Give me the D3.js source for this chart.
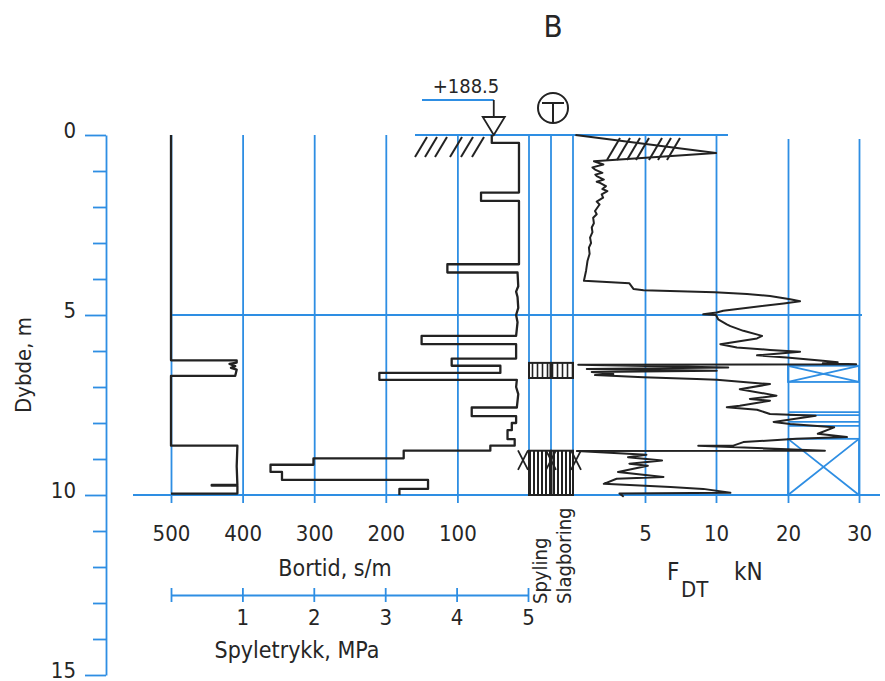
<!DOCTYPE html>
<html><head><meta charset="utf-8">
<script src="https://cdn.jsdelivr.net/npm/d3@7"></script>
<style>
body{margin:0;background:#fff}
text{font-family:"DejaVu Sans Condensed","DejaVu Sans",sans-serif;fill:#262626}
</style></head>
<body><svg id="c" width="885" height="681"></svg>
<script>
// ---------- data ----------
const title = "B";
const elevation = "+188.5";
const depthTicks = d3.range(0, 16);
const depthLabels = [0, 5, 10, 15];
const bortidTicks = [500, 400, 300, 200, 100];
const spyleTicks = [0, 1, 2, 3, 4, 5];
const fdtTicks = [5, 10, 20, 30];
// Bortid, s/m  : [depth m, value]
const bortid = [[0,52],[0.22,52],[0.22,14],[1.6,14],[1.6,67],[1.83,67],[1.83,14],[3.59,14],[3.59,114],[3.82,114],[3.82,16],
 [4.2,15],[4.35,18],[4.5,16],[4.8,15],[5.0,18],[5.2,16],[5.58,18],[5.58,150],[5.81,150],[5.81,18],[6.21,18],[6.21,108],[6.41,108],[6.41,40],
 [6.61,40],[6.61,209],[6.80,209],[6.80,17],[7.0,18],[7.2,15],[7.57,17],[7.57,80],[7.81,80],[7.81,18],[8.0,18],[8.0,24],[8.2,24],[8.2,30],
 [8.45,30],[8.45,20],[8.63,20],[8.63,54],[8.77,54],[8.77,175],[8.98,175],[8.98,301],[9.16,301],[9.16,361],[9.36,361],[9.36,345],
 [9.58,345],[9.58,141],[9.83,141],[9.83,181],[9.96,181],[10,181]];
// Spyletrykk, MPa : [depth m, value]
const spyletrykk = [[0,0],[6.26,0],[6.26,0.92],[6.32,0.92],[6.36,0.82],[6.42,0.9],[6.47,0.84],[6.52,0.92],[6.69,0.9],[6.69,0],
 [8.63,0],[8.63,0.93],[9.2,0.92],[9.72,0.93],[9.72,0.57],[9.74,0.57],[9.74,0.93],[9.96,0.93],[9.96,0]];
// F_DT, kN : [depth m, value]
const fdt = [[0,0.1],[0.5,10],[0.73,1.4],[0.82,2.07],[0.9,1.3],[0.96,1.48],[1.05,2.0],[1.1,1.5],[1.14,1.6],[1.24,2.1],[1.3,1.6],[1.33,1.83],[1.42,2.25],
 [1.5,2.0],[1.56,2.35],[1.65,1.95],[1.74,2.05],[1.85,1.6],[1.93,1.8],[2.11,1.48],[2.2,1.6],[2.3,1.35],[2.45,1.4],[2.57,1.25],[2.7,1.3],[2.85,1.13],[3.0,1.2],[3.13,1.05],[3.3,1.1],[3.5,0.95],[3.77,0.85],
 [4.05,0.7],[4.12,3.9],[4.28,4.2],[4.31,4.9],[4.37,9.9],[4.42,14.3],[4.47,17.5],[4.56,20.3],[4.62,21.7],[4.68,19.4],[4.79,14.7],
 [4.88,11.0],[4.93,10.1],[4.98,9.1],[5.0,10.0],[5.12,10.3],[5.26,11.5],[5.31,12.0],[5.44,13.8],[5.58,16.4],[5.65,15.7],[5.81,10.6],
 [5.9,12.9],[5.97,17.5],[6.02,21.7],[6.12,15.7],[6.18,19.8],[6.27,24.9],[6.31,27.0],[6.34,24.9],[6.37,29.6],[6.38,0.3],[6.46,11.7],
 [6.5,0.9],[6.55,10.1],[6.58,1.25],[6.64,2.77],[6.67,1.48],[6.73,4.88],[6.78,8.64],[6.8,10.1],[6.92,17.5],[7.06,13.3],[7.24,18.4],
 [7.33,14.7],[7.38,17.5],[7.52,13.3],[7.56,11.5],[7.63,15.7],[7.75,17.5],[7.8,23.9],[7.97,18.0],[8.03,20.3],[8.12,26.5],[8.3,24.2],
 [8.39,28.3],[8.44,21.2],[8.53,13.8],[8.63,12.4],[8.63,8.75],[8.77,25.2],[8.78,0.2],[8.88,5.1],[8.95,3.8],[9.04,6.2],[9.13,3.9],
 [9.19,5.2],[9.36,3.1],[9.5,6.3],[9.55,3.0],[9.69,2.1],[9.78,6.8],[9.83,9.1],[9.94,12.0],[9.96,3.2],[10.05,3.5]];
// Spyling / Slagboring zones [from, to] m
const spylingZones = [[6.33,6.75],[8.77,10]];
const slagboringZones = [[6.33,6.75],[8.77,10]];
// crossed boxes (20-30 kN column) and band lines, depth m
const crossBoxes = [[6.41,6.86],[8.44,10]];
const bandLines = [7.7,7.78,7.97,8.08];
const xMarkDepth = [8.76, 9.3];

// ---------- drawing ----------
const BLUE = "#2e8ee3", INK = "#222";
const svg = d3.select("#c");
const y = d3.scaleLinear().domain([0,15]).range([135,675]);
const xB = d3.scaleLinear().domain([0,500]).range([529,171]);
const xS = d3.scaleLinear().domain([0,5]).range([171,528]);
const xF = d3.scaleLinear().domain([0,5,10,20,30]).range([574,645,716,788,859]);
const colL = xB(0), colR = xF(0) - 1, colM = (colL + colR) / 2;
const gridBottom = 503;
const FONT = '"DejaVu Sans Condensed","DejaVu Sans",sans-serif';

const defs = svg.append("defs");
function stripes(id, step, w){
  const p = defs.append("pattern").attr("id", id).attr("patternUnits","userSpaceOnUse")
    .attr("width", step).attr("height", 10);
  p.append("rect").attr("width", step).attr("height", 10).attr("fill", "#fff");
  p.append("line").attr("x1", step/2).attr("x2", step/2).attr("y1", 0).attr("y2", 10)
    .attr("stroke", INK).attr("stroke-width", w);
}
stripes("stA", 5, 1.6);
stripes("stB", 4, 2);

// --- blue grid ---
const grid = svg.append("g").attr("stroke", BLUE).attr("stroke-width", 1.8).attr("fill","none");

const axB = svg.append("g").attr("transform", `translate(0,${gridBottom})`)
  .call(d3.axisBottom(xB).tickValues(bortidTicks).tickSize(-(gridBottom - y(0))).tickFormat(d => d));
const axF = svg.append("g").attr("transform", `translate(0,${gridBottom})`)
  .call(d3.axisBottom(xF).tickValues(fdtTicks).tickSize(-(gridBottom - y(0))).tickFormat(d => d));
[axB, axF].forEach(a => {
  a.select(".domain").remove();
  a.selectAll("line").attr("stroke", BLUE).attr("stroke-width", 1.8);
  a.selectAll("text").attr("y", 38).attr("dy", 0).attr("font-size", 22)
    .attr("font-family", FONT).attr("fill", INK);
});
axF.selectAll(".tick").filter(d => d >= 20).select("line").attr("y2", -(gridBottom - y(0) - 4));

// column borders
[colL, colM, colR].forEach(x => grid.append("line").attr("x1", x).attr("x2", x).attr("y1", y(0)).attr("y2", y(10)));
// top ground line
grid.append("line").attr("x1", 415).attr("x2", 728).attr("y1", y(0)).attr("y2", y(0));
// 5 m and 10 m lines
grid.append("line").attr("x1", xS(0)).attr("x2", 862).attr("y1", y(5)).attr("y2", y(5));
grid.append("line").attr("x1", 133).attr("x2", 880).attr("y1", y(10)).attr("y2", y(10));
// crossed boxes
crossBoxes.forEach(([a,b]) => {
  const x0 = xF(20), x1 = xF(30);
  grid.append("rect").attr("x", x0).attr("y", y(a)).attr("width", x1-x0).attr("height", y(b)-y(a));
  grid.append("path").attr("d", `M${x0},${y(a)}L${x1},${y(b)}M${x0},${y(b)}L${x1},${y(a)}`);
});
bandLines.forEach(d => grid.append("line").attr("x1", xF(20)).attr("x2", xF(30)).attr("y1", y(d)).attr("y2", y(d)));

// elevation marker line
grid.append("line").attr("x1", 422).attr("x2", xB(bortid[0][1]) + 2).attr("y1", 100).attr("y2", 100);

// --- depth axis ---
const axY = svg.append("g").attr("transform", "translate(106,0)")
  .call(d3.axisLeft(y).tickValues(depthTicks).tickSize(13).tickSizeOuter(0)
    .tickFormat(d => depthLabels.includes(d) ? d : ""));
axY.select(".domain").attr("stroke", BLUE).attr("stroke-width", 1.8);
axY.selectAll("line").attr("stroke", BLUE).attr("stroke-width", 1.8);
axY.selectAll(".tick").filter(d => depthLabels.includes(d)).select("line").attr("x2", -21);
axY.selectAll("text").attr("x", -30).attr("dy", 2).attr("font-size", 22)
  .attr("font-family", FONT).attr("fill", INK);

// --- spyletrykk axis ---
const axS = svg.append("g").attr("transform", "translate(0,595)")
  .call(d3.axisBottom(xS).tickValues(spyleTicks).tickSize(7).tickSizeOuter(0).tickFormat(d => d === 0 ? "" : d));
axS.select(".domain").attr("stroke", BLUE).attr("stroke-width", 1.8);
axS.selectAll("line").attr("stroke", BLUE).attr("stroke-width", 1.8).attr("y1", -7);
axS.selectAll("text").attr("y", 30).attr("dy", 0).attr("font-size", 22)
  .attr("font-family", FONT).attr("fill", INK);

// --- zones in Spyling / Slagboring columns ---
function zones(list, x0, x1){
  list.forEach(([a,b], i) => {
    svg.append("rect").attr("x", x0).attr("y", y(a)).attr("width", x1 - x0).attr("height", y(b) - y(a))
      .attr("fill", i === 0 ? "url(#stA)" : "url(#stB)").attr("stroke", INK).attr("stroke-width", 2);
  });
}
zones(spylingZones, colL, colM - 0.5);
zones(slagboringZones, colM + 0.5, colR);
// X marks
[colL - 6, colM, colR + 3].forEach(cx => {
  const a = y(xMarkDepth[0]), b = y(xMarkDepth[1]);
  svg.append("path").attr("d", `M${cx-5},${a}L${cx+5},${b}M${cx-5},${b}L${cx+5},${a}`)
    .attr("stroke", INK).attr("stroke-width", 1.8).attr("fill", "none");
});

// --- hatching ---
const hatch = svg.append("g").attr("stroke", INK).attr("stroke-width", 2);
[415, 425, 435, 450, 461, 472].forEach(bx => hatch.append("line").attr("x1", bx).attr("y1", 157).attr("x2", bx + 12).attr("y2", 137));
[607, 617, 627, 636, 649, 658, 667].forEach(bx => hatch.append("line").attr("x1", bx).attr("y1", 160).attr("x2", bx + 13).attr("y2", 138));

// --- curves ---
const curveStyle = s => s.attr("fill", "none").attr("stroke", INK).attr("stroke-width", 2.3).attr("stroke-linejoin", "round");
svg.append("path").datum(spyletrykk).call(curveStyle)
  .attr("d", d3.line().x(d => xS(d[1])).y(d => y(d[0])));
svg.append("path").datum(bortid).call(curveStyle)
  .attr("d", d3.line().x(d => xB(d[1])).y(d => y(d[0])));
svg.append("path").datum(fdt).call(curveStyle).attr("stroke-width", 2)
  .attr("d", d3.line().x(d => xF(d[1])).y(d => y(d[0])));

// --- elevation marker ---
const ex = xB(bortid[0][1]) + 2;
svg.append("line").attr("x1", ex).attr("x2", ex).attr("y1", 100).attr("y2", 117).attr("stroke", INK).attr("stroke-width", 1.8);
svg.append("path").attr("d", `M${ex-11},117L${ex+11},117L${ex},${y(0)}Z`).attr("fill", "#fff").attr("stroke", INK).attr("stroke-width", 1.8);
svg.append("text").attr("x", 466).attr("y", 93).attr("text-anchor", "middle").attr("font-size", 20).text(elevation);

// circle T symbol
const cxT = 553, cyT = 108, r = 15;
svg.append("circle").attr("cx", cxT).attr("cy", cyT).attr("r", r).attr("fill", "none").attr("stroke", INK).attr("stroke-width", 2);
svg.append("path").attr("d", `M${cxT-11},${cyT-5}L${cxT+11},${cyT-5}M${cxT},${cyT-5}L${cxT},${cyT+r}`)
  .attr("stroke", INK).attr("stroke-width", 2).attr("fill", "none");

// --- texts ---
svg.append("text").attr("x", 553).attr("y", 37).attr("text-anchor", "middle").attr("font-size", 31).text(title);
svg.append("text").attr("transform", "translate(31,365) rotate(-90)").attr("text-anchor", "middle").attr("font-size", 22).text("Dybde, m");
svg.append("text").attr("x", 335).attr("y", 576).attr("text-anchor", "middle").attr("font-size", 23).text("Bortid, s/m");
svg.append("text").attr("x", 297).attr("y", 658).attr("text-anchor", "middle").attr("font-size", 23).text("Spyletrykk, MPa");
svg.append("text").attr("transform", "translate(547,604) rotate(-90)").attr("font-size", 20).text("Spyling");
svg.append("text").attr("transform", "translate(571,604) rotate(-90)").attr("font-size", 20).text("Slagboring");
svg.append("text").attr("x", 667).attr("y", 580).attr("font-size", 24).text("F");
svg.append("text").attr("x", 681).attr("y", 597).attr("font-size", 22).text("DT");
svg.append("text").attr("x", 734).attr("y", 580).attr("font-size", 24).text("kN");
</script>
</body></html>
